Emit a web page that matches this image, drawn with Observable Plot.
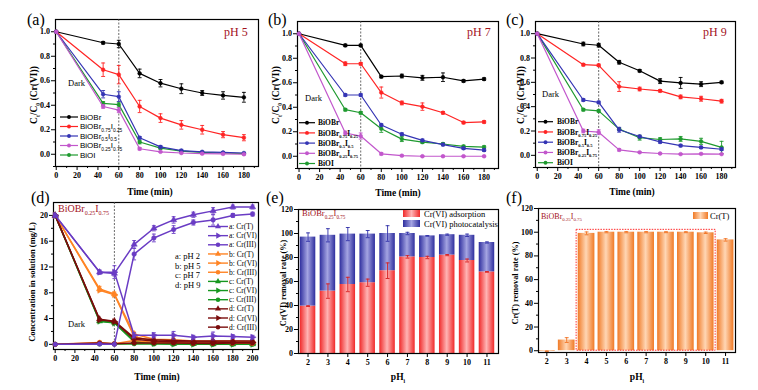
<!DOCTYPE html>
<html><head><meta charset="utf-8">
<script src="https://cdn.jsdelivr.net/npm/d3@7"></script>
<script src="https://cdn.jsdelivr.net/npm/@observablehq/plot@0.6"></script>
<style>
body{margin:0;background:#fff;}
#fig{position:relative;width:758px;height:390px;overflow:hidden;background:#fff;}
</style></head><body><div id="fig"></div>
<script>
// ---------------- DATA ----------------
const timeABC = [0,45,60,80,100,120,140,160,180];
const darkEnd = 60;
const catalysts = ["BiOBr","BiOBr_{0.75}I_{0.25}","BiOBr_{0.5}I_{0.5}","BiOBr_{0.25}I_{0.75}","BiOI"];
const catalystColors = ["#000000","#ff2424","#3434b4","#c257cc","#1f9a2f"];

const pH5Values = [
 [1.00,0.91,0.90,0.66,0.58,0.535,0.50,0.48,0.465],
 [1.00,0.69,0.65,0.39,0.295,0.24,0.20,0.16,0.135],
 [1.00,0.49,0.47,0.135,0.06,0.03,0.02,0.015,0.01],
 [1.00,0.39,0.36,0.045,0.02,0.01,0.005,0.003,0.00],
 [1.00,0.415,0.405,0.10,0.05,0.025,0.015,0.01,0.005]];
const pH5Errors = [
 [0,0.01,0.03,0.035,0.03,0.04,0.02,0.03,0.04],
 [0,0.055,0.075,0.05,0.035,0.035,0.035,0.025,0.025],
 [0,0.03,0.04,0.01,0.01,0.01,0.005,0.005,0.005],
 [0,0.015,0.02,0.01,0.005,0.005,0.005,0.005,0.005],
 [0,0.015,0.02,0.015,0.01,0.005,0.005,0.005,0.005]];

const pH7Values = [
 [1.00,0.905,0.905,0.65,0.655,0.64,0.645,0.615,0.63],
 [1.00,0.755,0.755,0.52,0.435,0.405,0.355,0.275,0.28],
 [1.00,0.50,0.50,0.255,0.18,0.13,0.095,0.065,0.05],
 [1.00,0.19,0.165,0.02,0.005,0.0,0.0,0.0,0.0],
 [1.00,0.38,0.355,0.225,0.14,0.115,0.10,0.08,0.075]];
const pH7Errors = [
 [0,0.01,0.01,0.01,0.015,0.02,0.035,0.01,0.01],
 [0,0.015,0.01,0.045,0.015,0.03,0.01,0.01,0.01],
 [0,0.01,0.01,0.01,0.01,0.01,0.01,0.01,0.01],
 [0,0.015,0.025,0.01,0.005,0.005,0.005,0.005,0.005],
 [0,0.01,0.01,0.03,0.02,0.01,0.01,0.01,0.01]];

const pH9Values = [
 [1.00,0.915,0.905,0.765,0.695,0.61,0.595,0.585,0.60],
 [1.00,0.745,0.74,0.565,0.545,0.53,0.48,0.465,0.445],
 [1.00,0.455,0.435,0.21,0.155,0.11,0.08,0.065,0.05],
 [1.00,0.20,0.19,0.045,0.025,0.015,0.01,0.012,0.01],
 [1.00,0.375,0.365,0.215,0.145,0.13,0.135,0.115,0.065]];
const pH9Errors = [
 [0,0.015,0.015,0.015,0.01,0.02,0.045,0.02,0.01],
 [0,0.01,0.01,0.04,0.015,0.01,0.015,0.02,0.015],
 [0,0.01,0.01,0.02,0.01,0.01,0.01,0.01,0.01],
 [0,0.015,0.02,0.01,0.005,0.005,0.005,0.005,0.005],
 [0,0.01,0.01,0.01,0.02,0.015,0.02,0.025,0.05]];

// panel (d)
const timeD = [0,45,60,80,100,120,140,160,180,200];
const crT_pH2   = [20,11.2,11.0,15.5,18.0,19.3,20.1,20.7,21.3,21.3];
const crVI_pH2  = [20,11.2,11.2,1.4,1.4,1.4,1.1,1.3,1.2,1.1];
const crIII_pH2 = [0,0.05,0.0,14.0,16.5,17.8,18.9,19.3,20.0,20.2];
const crT_pH5   = [20,8.6,7.8,1.6,0.8,0.7,0.5,0.5,0.5,0.45];
const crVI_pH5  = [20,8.4,7.7,1.2,0.5,0.4,0.3,0.3,0.3,0.3];
const crIII_pH5 = [0,0.3,0.1,0.6,0.3,0.3,0.2,0.2,0.2,0.15];
const crT_pH7   = [20,3.6,3.4,0.5,0.2,0.1,0.1,0.05,0.05,0.05];
const crVI_pH7  = [20,3.6,3.3,0.4,0.15,0.05,0.03,0.02,0.02,0.02];
const crIII_pH7 = [0,0.05,0.05,0.1,0.05,0.05,0.05,0.03,0.03,0.03];
const crT_pH9   = [20,3.9,3.6,1.0,0.7,0.6,0.5,0.5,0.5,0.5];
const crVI_pH9  = [20,3.8,3.5,0.8,0.5,0.4,0.35,0.35,0.3,0.3];
const crIII_pH9 = [0,0.2,0.1,0.2,0.2,0.2,0.15,0.15,0.2,0.2];
const errT_pH2   = [0,0.3,0.4,0.6,0.4,0.5,0.4,0.5,0.3,0.3];
const errVI_pH2  = [0,0.3,1.0,0.4,0.4,0.6,0.3,0.6,0.3,0.3];
const errIII_pH2 = [0,0,0,0.9,0.6,0.6,0.4,0.8,0.3,0.3];
const errT_pH5   = [0,0.4,0.3,0.3,0.2,0.2,0.2,0.2,0.2,0.2];
const dGroups = ["a","b","c","d"];
const dGroupPH = ["pH 2","pH 5","pH 7","pH 9"];
const dGroupColors = ["#6a3cc4","#ff8424","#16971f","#7a0c0c"];
const dSpecies = ["Cr(T)","Cr(VI)","Cr(III)"];

// panel (e)
const pHi = [2,3,4,5,6,7,8,9,10,11];
const adsorption    = [39.5,52,57.5,59,69,80.5,80,82,77.5,68];
const adsorptionErr = [0.3,6,6,3,6.5,1,1,0.5,1.2,0.3];
const totalRemoval  = [97,98.5,99.5,99.5,100,100,98,99,98.5,92.5];
const totalErr      = [3.5,5.5,5.5,3,6.5,1,0.3,0.5,1,0.5];
// panel (f)
const crTRemoval    = [-0.5,9,99,100,100,100,100,100,99.5,93.5];
const crTRemovalErr = [0.3,2,1.2,0.5,0.5,0.5,0.4,0.4,0.6,1.0];
const highlightRange = [4,10];
const highlightTop = 102;

// ---------------- HELPERS ----------------
const fig = document.getElementById("fig");
const serif = "'Liberation Serif','Times New Roman',serif";
const sans = "'Liberation Sans',Arial,sans-serif";
const baseStyle = {fontFamily: serif, fontSize: "8px", fontWeight: "bold", color: "#000", background: "transparent", overflow: "visible"};

const cap = {draw(ctx, size){ const w = Math.sqrt(size)/2; ctx.moveTo(-w,0); ctx.lineTo(w,0); }};
const triangleRight = {draw(ctx, size){
  const p = {moveTo:(x,y)=>ctx.moveTo(-y,x), lineTo:(x,y)=>ctx.lineTo(-y,x), closePath:()=>ctx.closePath()};
  d3.symbolTriangle.draw(p, size);
}};

function mount(frame, xDomain, yDomain, marks, after) {
  const [fx0, fx1, fy0, fy1] = frame;
  const ml = 45, mr = 10, mt = 10, mb = 30;
  const svg = Plot.plot({
    width: fx1 - fx0 + ml + mr, height: fy1 - fy0 + mt + mb,
    marginLeft: ml, marginRight: mr, marginTop: mt, marginBottom: mb,
    x: {domain: xDomain}, y: {domain: yDomain},
    style: baseStyle, marks
  });
  svg.style.position = "absolute";
  svg.style.left = (fx0 - ml) + "px";
  svg.style.top = (fy0 - mt) + "px";
  if (after) after(svg);
  fig.appendChild(svg);
}

function axes(xTicks, xMinor, yTicks, yMinor, xFmt, yFmt) {
  return [
    Plot.axisX({ticks: xTicks, tickSize: 4, tickPadding: 1.5, label: null, tickFormat: xFmt}),
    Plot.axisX({ticks: xMinor, tickSize: 2, label: null, tickFormat: () => ""}),
    Plot.axisY({ticks: yTicks, tickSize: 4, tickPadding: 1.5, label: null, tickFormat: yFmt}),
    Plot.axisY({ticks: yMinor, tickSize: 2, label: null, tickFormat: () => ""}),
    Plot.frame({stroke: "#000", strokeWidth: 1.2})
  ];
}

function errorMarks(rows, x, y, e, color, w = 0.9) {
  const r = rows.filter(d => e(d) > 0);
  return [
    Plot.ruleX(r, {x, y1: d => y(d) - e(d), y2: d => y(d) + e(d), stroke: color, strokeWidth: w}),
    Plot.dot(r, {x, y: d => y(d) + e(d), symbol: cap, r: 2.2, stroke: color, fill: "none", strokeWidth: w}),
    Plot.dot(r, {x, y: d => y(d) - e(d), symbol: cap, r: 2.2, stroke: color, fill: "none", strokeWidth: w})
  ];
}

function kineticsMarks(values, errors) {
  const order = [0,1,4,2,3];
  return [
    Plot.ruleX([darkEnd], {stroke: "#444", strokeWidth: 0.8, strokeDasharray: "2,1.5"}),
    order.map(s => {
      const rows = values[s].map((v, i) => ({t: timeABC[i], v, e: errors[s][i]}));
      const c = catalystColors[s];
      return [
        Plot.line(rows, {x: "t", y: "v", stroke: c, strokeWidth: 1.2}),
        errorMarks(rows, "t", d => d.v, d => d.e, c),
        Plot.dot(rows, {x: "t", y: "v", r: 1.9, fill: c, stroke: c, strokeWidth: 0.5})
      ];
    })
  ];
}

const yTicksK = [0,0.2,0.4,0.6,0.8,1.0];
const yMinorK = [-0.1,0.1,0.3,0.5,0.7,0.9];
const xTicksK = d3.range(0,181,20);
const xMinorK = d3.range(10,191,20);
const f1 = d3.format(".1f"), fd = d3.format("d");

// ---------------- PANELS a,b,c ----------------
mount([55,258,19,166], [-0.7,194], [-0.1,1.1], [axes(xTicksK,xMinorK,yTicksK,yMinorK,fd,f1), kineticsMarks(pH5Values,pH5Errors)]);
mount([297,498,21,168], [-1.5,194], [-0.1,1.1], [axes(xTicksK,xMinorK,yTicksK,yMinorK,fd,f1), kineticsMarks(pH7Values,pH7Errors)]);
mount([535,735,21,167], [-1.7,193.6], [-0.1,1.1], [axes(xTicksK,xMinorK,yTicksK,yMinorK,fd,f1), kineticsMarks(pH9Values,pH9Errors)]);

// ---------------- PANEL d ----------------
const dSeriesValues = [[crT_pH2,crVI_pH2,crIII_pH2],[crT_pH5,crVI_pH5,crIII_pH5],[crT_pH7,crVI_pH7,crIII_pH7],[crT_pH9,crVI_pH9,crIII_pH9]];
const dSeriesErrors = [[errT_pH2,errVI_pH2,errIII_pH2],[errT_pH5,null,null],[null,null,null],[null,null,null]];
const speciesSymbols = ["triangle", triangleRight, "circle"];
const dOrder = [2,1,3,0];
const dMarks = [Plot.ruleX([darkEnd], {stroke: "#444", strokeWidth: 0.8, strokeDasharray: "2,1.5"})];
for (const g of dOrder) {
  for (let s = 0; s < 3; s++) {
    const vals = dSeriesValues[g][s], errs = dSeriesErrors[g][s];
    const rows = vals.map((v, i) => ({t: timeD[i], v, e: errs ? errs[i] : 0}));
    const c = dGroupColors[g];
    dMarks.push(Plot.line(rows, {x: "t", y: "v", stroke: c, strokeWidth: 1.5}));
    dMarks.push(errorMarks(rows, "t", d => d.v, d => d.e, c));
    dMarks.push(Plot.dot(rows, {x: "t", y: "v", symbol: speciesSymbols[s], r: 2.3, fill: c, stroke: c, strokeWidth: 0.5}));
  }
}
mount([53,258,202,349], [-1.7,206], [-0.8,22],
  [axes(d3.range(0,201,20), d3.range(10,201,20), [0,4,8,12,16,20], [2,6,10,14,18], fd, fd), dMarks]);

// ---------------- PANEL e ----------------
function addGradient(svg, id, edge, mid) {
  const defs = d3.select(svg).insert("defs", ":first-child");
  const g = defs.append("linearGradient").attr("id", id).attr("x1", 0).attr("x2", 1).attr("y1", 0).attr("y2", 0);
  [[0, edge], [0.5, mid], [1, edge]].forEach(([o, c]) => g.append("stop").attr("offset", o).attr("stop-color", c));
}
const halfBar = 0.39;
const eRows = pHi.map((p, i) => ({p, ads: adsorption[i], adsE: adsorptionErr[i], tot: totalRemoval[i], totE: totalErr[i]}));
mount([298,498,209,353], [1.52,11.58], [0,120], [
  Plot.rect(eRows, {x1: d => d.p - halfBar, x2: d => d.p + halfBar, y1: 0, y2: "ads", fill: "url(#gradRed)"}),
  Plot.rect(eRows, {x1: d => d.p - halfBar, x2: d => d.p + halfBar, y1: "ads", y2: "tot", fill: "url(#gradBlue)"}),
  errorMarks(eRows, "p", d => d.ads, d => d.adsE, "#d81e1e"),
  errorMarks(eRows, "p", d => d.tot, d => d.totE, "#3030a8"),
  axes(pHi, [], d3.range(0,121,20), d3.range(10,121,20), fd, fd)
], svg => { addGradient(svg, "gradRed", "#f02a2a", "#ffb4b4"); addGradient(svg, "gradBlue", "#2e2e9e", "#a4a4e2"); });

// ---------------- PANEL f ----------------
const fRows = pHi.map((p, i) => ({p, v: crTRemoval[i], e: crTRemovalErr[i]}));
mount([538,735,208,352], [1.58,11.5], [-1.5,120], [
  Plot.rect(fRows, {x1: d => d.p - 0.42, x2: d => d.p + 0.42, y1: 0, y2: "v", fill: "url(#gradOrange)"}),
  errorMarks(fRows, "p", d => d.v, d => d.e, "#f07020"),
  Plot.rect([highlightRange], {x1: d => d[0] - 0.5, x2: d => d[1] + 0.5, y1: 0, y2: () => highlightTop,
    fill: "none", stroke: "#ff2a2a", strokeWidth: 1, strokeDasharray: "1.5,1.2"}),
  axes(pHi, [], d3.range(0,121,20), d3.range(10,121,20), fd, fd)
], svg => addGradient(svg, "gradOrange", "#f07a26", "#ffd6b4"));

// ---------------- OVERLAY TEXT & LEGENDS ----------------
const ov = d3.select(fig).append("svg").attr("width", 758).attr("height", 390)
  .style("position", "absolute").style("left", 0).style("top", 0).style("pointer-events", "none");

function richText(x, y, str, o = {}) {
  const size = o.size || 9;
  const t = ov.append("text").attr("x", x).attr("y", y)
    .attr("font-family", o.family || serif).attr("font-size", size)
    .attr("font-weight", o.weight || "normal").attr("fill", o.fill || "#000")
    .attr("text-anchor", o.anchor || "start");
  if (o.rotate) t.attr("transform", `rotate(${o.rotate},${x},${y})`);
  const parts = str.split(/(_\{[^}]*\})/).filter(p => p.length);
  let shift = 0;
  for (const p of parts) {
    const sub = p.startsWith("_{");
    const txt = sub ? p.slice(2, -1) : p;
    const target = sub ? size * 0.3 : 0;
    const ts = t.append("tspan").text(txt).attr("dy", target - shift);
    if (sub) ts.attr("font-size", size * 0.6);
    shift = target;
  }
  return t;
}
function sample(x0, x1, y, color, sym, symSize, lw) {
  ov.append("line").attr("x1", x0).attr("x2", x1).attr("y1", y).attr("y2", y).attr("stroke", color).attr("stroke-width", lw);
  ov.append("path").attr("d", d3.symbol(sym, symSize)()).attr("transform", `translate(${(x0 + x1) / 2},${y})`).attr("fill", color);
}

// panel letters
[["(a)",27,25],["(b)",268,25],["(c)",506,25],["(d)",31,203],["(e)",266,203],["(f)",506,203]]
  .forEach(([s, x, y]) => richText(x, y, s, {size: 16}));

// pH labels and Dark
[["pH 5",224,36],["pH 7",467,36],["pH 9",703,36]].forEach(([s,x,y]) => richText(x, y, s, {size: 12, fill: "#a3121c"}));
[["Dark",68,86],["Dark",305,101],["Dark",542,97],["Dark",68,327]].forEach(([s,x,y]) => richText(x, y, s, {size: 8.5}));

// axis titles
[[150,195],[398,196],[632,195],[157,380]].forEach(([x,y]) => richText(x, y, "Time (min)", {size: 9.5, weight: "bold", anchor: "middle"}));
[[398,380],[637,380]].forEach(([x,y]) => richText(x, y, "pH_{i}", {size: 9.5, weight: "bold", anchor: "middle"}));
[[37,95],[279,95],[524,95]].forEach(([x,y]) => richText(x, y, "C_{t}/C_{0} (Cr(VI))", {size: 9.5, weight: "bold", anchor: "middle", rotate: -90}));
richText(35, 282, "Concentration in solution (mg/L)", {size: 8.5, weight: "bold", anchor: "middle", rotate: -90});
richText(286, 283, "Cr(VI) removal rate (%)", {size: 8.2, weight: "bold", anchor: "middle", rotate: -90});
richText(518, 283, "Cr(T) removal rate (%)", {size: 8.2, weight: "bold", anchor: "middle", rotate: -90});

// legends a,b,c
const legendSpecs = [
  {x0: 60, x1: 78, tx: 80, y0: 117, dy: 9.5, family: sans, weight: "normal", size: 8},
  {x0: 299, x1: 315, tx: 318, y0: 122.7, dy: 10.2, family: serif, weight: "bold", size: 7.5},
  {x0: 538, x1: 553, tx: 557, y0: 121.7, dy: 10.25, family: serif, weight: "bold", size: 7.5}];
legendSpecs.forEach(L => catalysts.forEach((name, i) => {
  const y = L.y0 + i * L.dy;
  sample(L.x0, L.x1, y, catalystColors[i], d3.symbolCircle, 12, 1.2);
  richText(L.tx, y + L.size * 0.35, name, {size: L.size, family: L.family, weight: L.weight});
}));

// legend d
dGroups.forEach((g, gi) => dSpecies.forEach((sp, si) => {
  const i = gi * 3 + si, y = 226.5 + i * 9.15;
  const c = dGroupColors[gi];
  ov.append("line").attr("x1", 208).attr("x2", 228).attr("y1", y).attr("y2", y).attr("stroke", c).attr("stroke-width", 1.4);
  const sym = si === 0 ? d3.symbolTriangle : si === 1 ? triangleRight : d3.symbolCircle;
  ov.append("path").attr("d", d3.symbol(sym, 16)()).attr("transform", `translate(218,${y})`).attr("fill", c);
  richText(229, y + 2.6, `${g}: ${sp}`, {size: 7.5});
}));
dGroups.forEach((g, i) => richText(175, 259 + i * 9.7, `${g}: ${dGroupPH[i]}`, {size: 8.5}));
richText(58, 212, "BiOBr_{0.25}I_{0.75}", {size: 10, fill: "#a3121c"});

// legend e
ov.append("defs").html(`<linearGradient id="lgR" x1="0" x2="1"><stop offset="0" stop-color="#f02a2a"/><stop offset="0.5" stop-color="#ffb4b4"/><stop offset="1" stop-color="#f02a2a"/></linearGradient>
<linearGradient id="lgB" x1="0" x2="1"><stop offset="0" stop-color="#2e2e9e"/><stop offset="0.5" stop-color="#a4a4e2"/><stop offset="1" stop-color="#2e2e9e"/></linearGradient>
<linearGradient id="lgO" x1="0" x2="1"><stop offset="0" stop-color="#f07a26"/><stop offset="0.5" stop-color="#ffd6b4"/><stop offset="1" stop-color="#f07a26"/></linearGradient>`);
ov.append("rect").attr("x", 403).attr("y", 210).attr("width", 17).attr("height", 7).attr("fill", "url(#lgR)");
ov.append("rect").attr("x", 403).attr("y", 220).attr("width", 17).attr("height", 7).attr("fill", "url(#lgB)");
richText(424, 216.5, "Cr(VI) adsorption", {size: 8.5});
richText(424, 226.5, "Cr(VI) photocatalysis", {size: 8.5});
richText(302, 216, "BiOBr_{0.25}I_{0.75}", {size: 8.5, fill: "#a3121c"});

// legend f
ov.append("rect").attr("x", 693).attr("y", 212).attr("width", 15).attr("height", 7).attr("fill", "url(#lgO)");
richText(710, 218.5, "Cr(T)", {size: 8.5});
richText(541, 219, "BiOBr_{0.25}I_{0.75}", {size: 8, fill: "#a3121c"});
</script></body></html>
